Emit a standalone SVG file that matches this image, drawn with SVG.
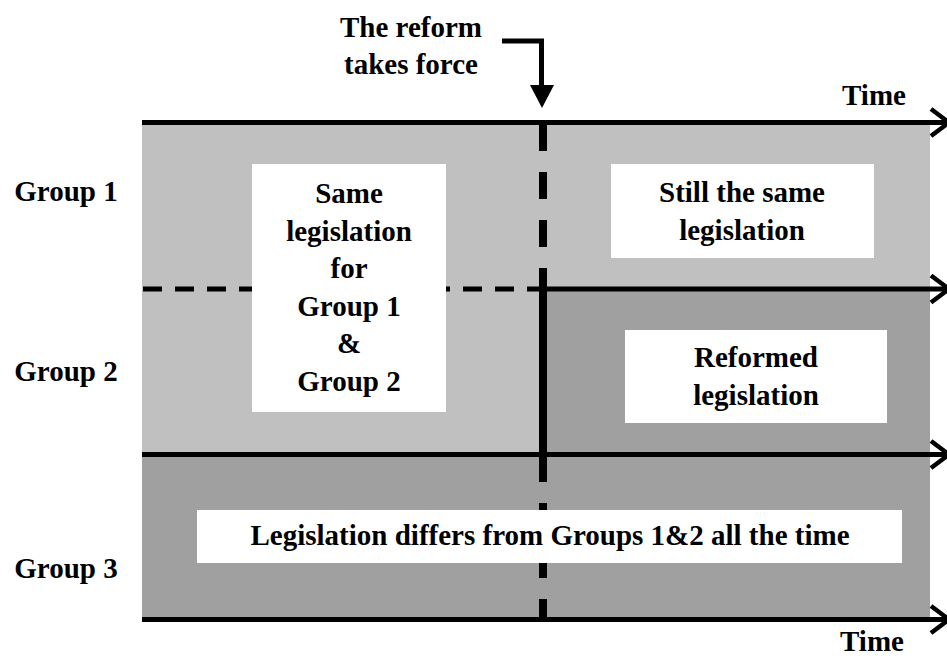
<svg xmlns="http://www.w3.org/2000/svg" width="947" height="659" viewBox="0 0 947 659">
  <defs>
    <style>
      text { font-family: "Liberation Serif", "Times New Roman", serif; font-weight: bold; font-size: 29px; fill: #000; text-anchor: middle; }
      .light { fill: #c0c0c0; }
      .dark { fill: #a0a0a0; }
      .box { fill: #ffffff; }
      .axis { stroke: #000; stroke-width: 5; fill: none; }
      .chev { stroke: #000; stroke-width: 4.5; fill: none; stroke-linejoin: miter; }
      .hdash { stroke: #000; stroke-width: 5; stroke-dasharray: 19 13; fill: none; }
      .vdash { stroke: #000; stroke-width: 8; stroke-dasharray: 27 21; fill: none; }
      .vsolid { stroke: #000; stroke-width: 8; fill: none; }
    </style>
  </defs>

  <!-- background bands -->
  <g id="bands">
    <rect class="light" x="142" y="123" width="788" height="166"/>
    <rect class="light" x="142" y="289" width="400" height="165"/>
    <rect class="dark" x="542" y="289" width="388" height="165"/>
    <rect class="dark" x="142" y="454" width="788" height="166"/>
  </g>

  <!-- time axes, group separators and reform marker -->
  <g id="connectors">
    <line class="axis" x1="142" y1="122.5" x2="948" y2="122.5"/>
    <polyline class="chev" points="931,109 949,122.5 931,136"/>
    <line class="hdash" x1="143" y1="289" x2="541" y2="289"/>
    <line class="axis" x1="541" y1="289" x2="948" y2="289"/>
    <polyline class="chev" points="931,275.5 949,289 931,302.5"/>
    <line class="axis" x1="142" y1="454.5" x2="948" y2="454.5"/>
    <polyline class="chev" points="931,441 949,454.5 931,468"/>
    <line class="axis" x1="142" y1="619.5" x2="948" y2="619.5"/>
    <polyline class="chev" points="931,606 949,619.5 931,633"/>

    <line class="vdash" x1="543" y1="124" x2="543" y2="289"/>
    <line class="vsolid" x1="543" y1="289" x2="543" y2="455"/>
    <line class="vdash" x1="543" y1="455" x2="543" y2="620"/>

    <polyline class="axis" points="502,41 541.5,41 541.5,86"/>
    <polygon points="530,85 554,85 542,108" fill="#000"/>
  </g>

  <!-- labels -->
  <g id="reform-label">
    <text x="411" y="37">The reform</text>
    <text x="411" y="74">takes force</text>
  </g>
  <g id="time-top"><text x="874" y="105">Time</text></g>
  <g id="time-bottom"><text x="872" y="651">Time</text></g>

  <g id="group1"><text x="66" y="201">Group 1</text></g>
  <g id="group2"><text x="66" y="381">Group 2</text></g>
  <g id="group3"><text x="66" y="578">Group 3</text></g>

  <g id="same-legislation">
    <rect class="box" x="252" y="164" width="194" height="248"/>
    <text x="349" y="203">Same</text>
    <text x="349" y="241">legislation</text>
    <text x="349" y="278">for</text>
    <text x="349" y="316">Group 1</text>
    <text x="349" y="353">&amp;</text>
    <text x="349" y="391">Group 2</text>
  </g>

  <g id="still-same">
    <rect class="box" x="611" y="164" width="263" height="94"/>
    <text x="742" y="202">Still the same</text>
    <text x="742" y="240">legislation</text>
  </g>

  <g id="reformed">
    <rect class="box" x="625" y="330" width="262" height="93"/>
    <text x="756" y="367">Reformed</text>
    <text x="756" y="405">legislation</text>
  </g>

  <g id="group3-legislation">
    <rect class="box" x="197" y="510" width="705" height="53"/>
    <text x="550" y="545">Legislation differs from Groups 1&amp;2 all the time</text>
  </g>
</svg>
